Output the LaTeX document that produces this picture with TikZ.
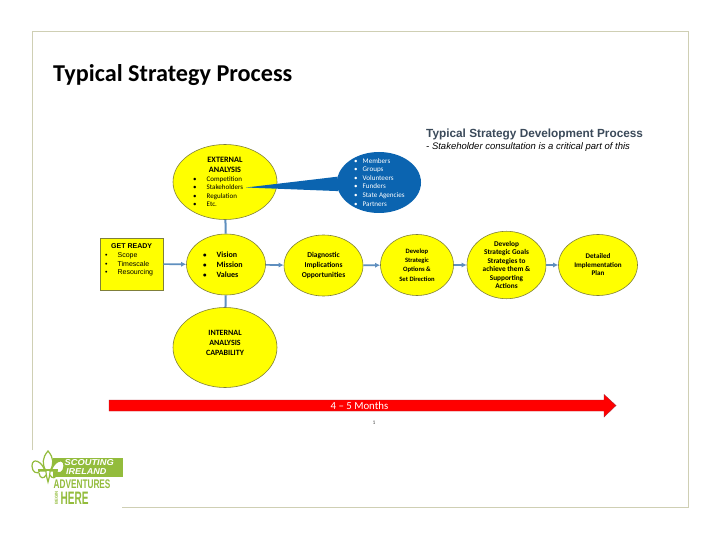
\documentclass[tikz,border=0pt]{standalone}
\usepackage{fontspec}
\setmainfont{Carlito}
\newfontfamily\arialfont{Liberation Sans}
\usetikzlibrary{positioning, arrows.meta, shapes.geometric}
\definecolor{frameTan}{HTML}{CFCFB4}
\definecolor{stageYellow}{HTML}{FFFF00}
\definecolor{stageEdge}{HTML}{7F7F3A}
\definecolor{flowBlue}{HTML}{5F8FBF}
\definecolor{stakeBlue}{HTML}{0B64B0}
\definecolor{barRed}{HTML}{FF0000}
\definecolor{barEdge}{HTML}{B02030}
\definecolor{logoGreen}{HTML}{93BC3C}
\definecolor{headSlate}{HTML}{3B4A5A}
\newcommand{\bul}{{\scriptsize\textbullet}}
\tikzset{
  stage/.style={ellipse, draw=stageEdge, line width=0.6pt, fill=stageYellow, inner sep=0pt,
    minimum width=79pt, minimum height=61pt, align=center, font=\fontsize{7.5}{8.9}\selectfont\bfseries},
  flow/.style={-{Latex[length=5pt,width=5pt]}, line width=1.6pt, color=flowBlue},
  stub/.style={line width=2pt, color=flowBlue},
  logotext/.style={color=logoGreen, inner sep=0pt, font=\arialfont\fontsize{10.5}{10.5}\selectfont\bfseries},
  fleur/.style={draw=logoGreen, fill=white, line width=1.2pt}
}
\begin{document}
\begin{tikzpicture}[x=1pt, y=-1pt]
  \useasboundingbox (0,0) rectangle (720,540);
  \fill[white] (0,0) rectangle (720,540);
  % frame, open at the logo corner
  \draw[line width=0.9pt, color=frameTan] (32,450) -- (32,31) -- (688.5,31) -- (688.5,507) -- (122,507);
  \node[font=\fontsize{24.2}{26}\selectfont\bfseries, anchor=west, inner sep=0pt] (title) at (53,75) {Typical Strategy Process};

  \node[font=\arialfont\fontsize{11.8}{13}\selectfont\bfseries, color=headSlate, anchor=west, inner sep=0pt] (head) at (426,134.5) {Typical Strategy Development Process};
  \node[font=\arialfont\fontsize{9.5}{11}\selectfont\itshape, anchor=west, inner sep=0pt] (subhead) at (426,147) {- Stakeholder consultation is a critical part of this};

  % yellow stages
  \node[stage, minimum width=104pt, minimum height=75pt] (external) at (225,182) {};
  \node[stage, minimum width=104pt, minimum height=80pt] (internal) at (225,347.5) {};
  \node[stage] (vision) at (226,264.5) {};
  \node[stage] (diagnostic) at (323.5,265.5) {Diagnostic\\[1pt]Implications\\[1pt]Opportunities};
  \node[stage, minimum width=73pt, font=\fontsize{6.6}{8.2}\selectfont\bfseries] (options) at (417,265) {Develop\\[1pt]Strategic\\[1pt]Options \&\\[1pt]Set Direction};
  \node[stage, font=\fontsize{7.3}{8.5}\selectfont\bfseries] (goals) at (506.5,265) {Develop\\Strategic Goals\\Strategies to\\achieve them \&\\Supporting\\Actions};
  \node[stage, font=\fontsize{7.1}{8.5}\selectfont\bfseries] (detailed) at (598,265) {Detailed\\Implementation\\Plan};

  \node[draw=stageEdge, line width=0.7pt, fill=stageYellow, minimum width=63pt, minimum height=52pt, inner sep=0pt] (ready) at (131.5,264) {};

  % stakeholder callout
  \coordinate (stakeTip) at (246,187.5);
  \node[ellipse, fill=stakeBlue, minimum width=84pt, minimum height=61pt, inner sep=0pt] (stake) at (379,182.5) {};
  \fill[stakeBlue] (stakeTip) -- (stake.172) -- (stake.192) -- cycle;

  % connectors
  \foreach \src/\dst in {ready/vision, vision/diagnostic, diagnostic/options, options/goals, goals/detailed} {
    \draw[flow] (\src) -- (\dst);
  }
  \draw[stub] (external) -- (vision);
  \draw[stub] (internal) -- (vision);

  % texts inside the stages
  \node[font=\fontsize{8.2}{10}\selectfont\bfseries, align=center, inner sep=0pt] (externalhead) at (225,165) {EXTERNAL\\ANALYSIS};
  \node[font=\fontsize{7}{8.6}\selectfont, anchor=north west, align=left, inner sep=0pt] (externallist) at (193,176) {\bul\hspace{10pt}Competition\\\bul\hspace{10pt}Stakeholders\\\bul\hspace{10pt}Regulation\\\bul\hspace{10pt}Etc.};
  \node[font=\fontsize{8}{10.1}\selectfont\bfseries, anchor=north west, align=left, inner sep=0pt] (visionlist) at (203,251.5) {\bul\hspace{10pt}Vision\\\bul\hspace{10pt}Mission\\\bul\hspace{10pt}Values};
  \node[font=\fontsize{8}{10}\selectfont\bfseries, align=center, inner sep=0pt] (internalhead) at (225,342.5) {INTERNAL\\ANALYSIS\\CAPABILITY};
  \node[font=\arialfont\fontsize{7}{8.8}\selectfont, anchor=north west, inner sep=0pt, align=left] (readylist) at (105,243.5) {\hspace*{6pt}\textbf{GET READY}\\\bul\hspace{10pt}Scope\\\bul\hspace{10pt}Timescale\\\bul\hspace{10pt}Resourcing};
  \node[font=\fontsize{7.1}{8.6}\selectfont, color=white, anchor=north west, align=left, inner sep=0pt] (stakelist) at (354,158) {\bul\hspace{5pt}Members\\\bul\hspace{5pt}Groups\\\bul\hspace{5pt}Volunteers\\\bul\hspace{5pt}Funders\\\bul\hspace{5pt}State Agencies\\\bul\hspace{5pt}Partners};

  % timeline
  \fill[barRed, draw=barEdge, line width=0.4pt] (109,400) -- (604,400) -- (604,394.5) -- (616,405.5) -- (604,417) -- (604,411) -- (109,411) -- cycle;
  \node[font=\fontsize{10.8}{12}\selectfont, color=white, inner sep=0pt] (months) at (359.5,406) {4 -- 5 Months};
  \node[font=\fontsize{5.5}{7}\selectfont, color=black!70, inner sep=0pt] (pagenum) at (374,422.5) {1};

  % logo
  \fill[logoGreen] (53,458) rectangle (123,477);
  \draw[fleur] (51,471) .. controls (54,461) and (64,457) .. (64,466) .. controls (64,472) and (59,475) .. (56,471) -- cycle;
  \draw[fleur] (45,471) .. controls (42,461) and (32,457) .. (32,466) .. controls (32,472) and (37,475) .. (40,471) -- cycle;
  \draw[fleur] (48,451) .. controls (42,458) and (42,464) .. (46,471) .. controls (46,475) and (47,478) .. (48,482)
    .. controls (49,478) and (50,475) .. (50,471) .. controls (54,464) and (54,458) .. (48,451) -- cycle;
  \draw[fleur] (38,470) -- (58,470);
  \draw[fleur, fill=none] (39,473) .. controls (40,479) and (44,479) .. (46,475);
  \draw[fleur, fill=none] (57,473) .. controls (56,479) and (52,479) .. (50,475);
  \node[logotext, anchor=west, font=\arialfont\fontsize{8.6}{8.6}\selectfont\bfseries\itshape, color=white, xscale=1.08] (scouting) at (64.5,463) {SCOUTING};
  \node[logotext, anchor=west, font=\arialfont\fontsize{8.6}{8.6}\selectfont\bfseries\itshape, color=white, xscale=1.05] (ireland) at (66,472) {IRELAND};
  \node[logotext, anchor=west, font=\arialfont\fontsize{12.5}{12.5}\selectfont\bfseries, xscale=0.66] (adventures) at (53.5,484.5) {ADVENTURES};
  \node[logotext, anchor=west, font=\arialfont\fontsize{18}{18}\selectfont\bfseries, xscale=0.56] (here) at (60.5,498) {HERE};
  \node[logotext, rotate=90, font=\arialfont\fontsize{4.2}{4.2}\selectfont\bfseries] (begin) at (56.5,498) {BEGIN};
\end{tikzpicture}
\end{document}
